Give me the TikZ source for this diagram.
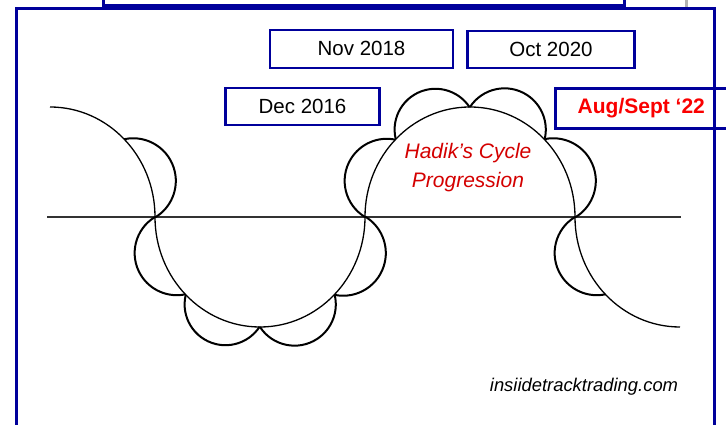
\documentclass[tikz,border=0pt]{standalone}
\usepackage{fontspec}
\setmainfont{Liberation Sans}
\definecolor{frameblue}{RGB}{0,0,155}
\definecolor{hadikred}{RGB}{212,0,0}
\definecolor{augred}{RGB}{250,0,0}
\definecolor{axisgray}{RGB}{50,50,50}
% scallop between parameter angles #3 and #4 of the big ellipse centred at (#1,#2)
\newcommand{\scallop}[4]{%
  \pgfmathsetmacro{\ax}{#1+105*cos(#3)}%
  \pgfmathsetmacro{\ay}{#2+110*sin(#3)}%
  \pgfmathsetmacro{\bx}{#1+105*cos(#4)}%
  \pgfmathsetmacro{\by}{#2+110*sin(#4)}%
  \pgfmathsetmacro{\mx}{(\ax+\bx)/2}%
  \pgfmathsetmacro{\my}{(\ay+\by)/2}%
  \pgfmathsetmacro{\nang}{atan2(\my-#2,\mx-#1)}%
  \pgfmathsetmacro{\ccx}{\mx-7*cos(\nang)}%
  \pgfmathsetmacro{\ccy}{\my-7*sin(\nang)}%
  \pgfmathsetmacro{\rr}{veclen(\ax-\ccx,\ay-\ccy)}%
  \pgfmathsetmacro{\sa}{atan2(\ay-\ccy,\ax-\ccx)}%
  \pgfmathsetmacro{\ea}{atan2(\by-\ccy,\bx-\ccx)}%
  \pgfmathsetmacro{\dd}{mod(\ea-\sa+540,360)-180}%
  \draw[scal] (\ax,\ay) arc[start angle=\sa, delta angle=\dd, radius=\rr];%
}
\begin{document}
\begin{tikzpicture}[x=1pt,y=1pt,
  wave/.style={line width=1.3pt, black},
  scal/.style={line width=2pt, black},
  axisline/.style={line width=1.6pt, axisgray},
  datebox/.style={draw=frameblue, line width=2.6pt, fill=white, inner sep=0pt,
    font=\fontsize{20.5}{24}\selectfont},
  bluerule/.style={draw=frameblue, line width=3pt}]
\useasboundingbox (0,0) rectangle (726,425);
\clip (0,0) rectangle (726,425);
\fill[white] (0,0) rectangle (726,425);

% horizontal axis
\coordinate (L) at (47,208);
\coordinate (R) at (681,208);
\draw[axisline] (L) -- (R);

% main wave
\draw[wave] (50,318) arc[start angle=90, end angle=0, x radius=105, y radius=110]
  arc[start angle=180, end angle=360, x radius=105, y radius=110]
  arc[start angle=180, end angle=0, x radius=105, y radius=110]
  arc[start angle=180, end angle=270, x radius=105, y radius=110];

% scallops
\scallop{50}{208}{45}{0}
\scallop{260}{208}{180}{225}
\scallop{260}{208}{225}{270}
\scallop{260}{208}{270}{315}
\scallop{260}{208}{315}{360}
\scallop{470}{208}{180}{135}
\scallop{470}{208}{135}{90}
\scallop{470}{208}{90}{45}
\scallop{470}{208}{45}{0}
\scallop{680}{208}{180}{225}

% date boxes
\node[datebox, minimum width=183pt, minimum height=38pt] (nov) at (361.5,376) {\raisebox{1.5pt}{Nov 2018}};
\node[datebox, minimum width=167pt, minimum height=37pt] (oct) at (551,375.5) {\raisebox{1pt}{Oct 2020}};
\node[datebox, minimum width=154pt, minimum height=37pt] (dec) at (302.5,318.5) {Dec 2016};
\node[datebox, minimum width=172pt, minimum height=40.5pt,
  font=\fontsize{21}{25}\selectfont\bfseries, text=augred] (aug) at (641.3,316.5) {\raisebox{4pt}{Aug/Sept ‘22}};

% title text
\node[anchor=base, text=hadikred, font=\fontsize{21}{25}\selectfont\itshape, inner sep=0pt] (hadik1) at (468,266) {Hadik’s Cycle};
\node[anchor=base, text=hadikred, font=\fontsize{21}{25}\selectfont\itshape, inner sep=0pt] (hadik2) at (468,237) {Progression};

% credit
\node[anchor=base, font=\fontsize{18.4}{22}\selectfont\itshape, inner sep=0pt] (credit) at (584,33) {insiidetracktrading.com};

% frame and upper box
\draw[bluerule] (103.5,440) -- (103.5,419) -- (624,419) -- (624,440);
\draw[gray!60, line width=3pt] (686.5,430) -- (686.5,417);
\draw[bluerule] (16.5,-20) -- (16.5,416.5) -- (714,416.5) -- (714,-20);
\end{tikzpicture}
\end{document}
